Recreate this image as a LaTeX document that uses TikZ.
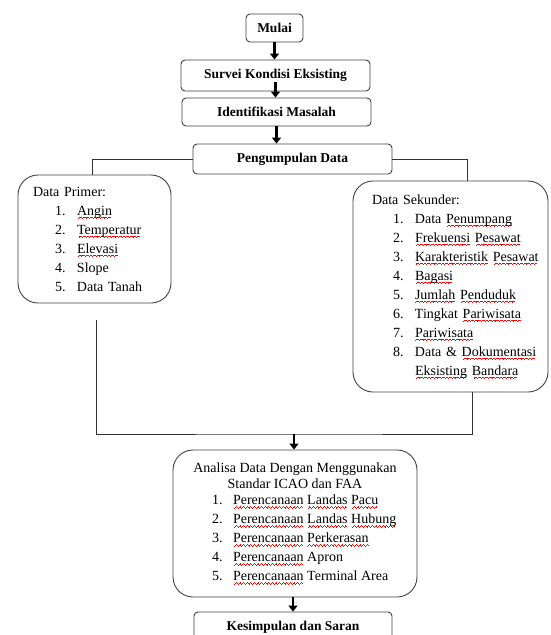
\documentclass[tikz,border=0pt]{standalone}
\usepackage{fontspec}
\setmainfont{Liberation Serif}
\usetikzlibrary{positioning, arrows.meta}

\newcommand\wave{\hbox{\rule[-3.6pt]{0.9pt}{0.6pt}\rule[-3pt]{0.9pt}{0.6pt}\rule[-2.4pt]{0.9pt}{0.6pt}\rule[-3pt]{0.9pt}{0.6pt}}}
\newcommand\typo[1]{\setbox0\hbox{#1}\rlap{\hbox to\wd0{\color{red}\cleaders\wave\hfil}}\box0\relax}
\newcommand\listitem[3]{\hspace*{#1}\makebox[22pt][l]{#2}\mbox{#3}}
\newcommand\planitem[2]{\makebox[166pt][l]{\makebox[21pt][l]{#1}#2}}

\tikzset{
  box/.style={draw=black!75, line width=0.9pt, rounded corners=4pt, inner sep=0pt,
    font=\fontsize{13.5}{16}\selectfont\bfseries},
  listbox/.style={draw=black!75, line width=0.9pt, rounded corners=20pt, inner sep=0pt,
    font=\fontsize{14}{19}\selectfont},
  link/.style={draw=black!80, line width=0.7pt},
  flow/.style={line width=2.6pt, -{Triangle[width=9pt,length=6pt]}}
}

\begin{document}
\begin{tikzpicture}[x=1pt, y=1pt, on grid]
  \useasboundingbox (0,0) rectangle (550,-635);

  \node[box, minimum width=57pt, minimum height=28pt] (mulai) at (274.5,-28) {Mulai};
  \node[box, minimum width=189pt, minimum height=31pt] (survei) [below=47.5pt of mulai, xshift=1pt] {Survei Kondisi Eksisting};
  \node[box, minimum width=189pt, minimum height=28pt] (identifikasi) [below=36.5pt of survei, xshift=1pt] {Identifikasi Masalah};
  \node[box, minimum width=199pt, minimum height=30pt] (pengumpulan) [below=47pt of identifikasi, xshift=16pt] {Pengumpulan Data};

  \node[listbox, align=left, text width=123pt, minimum width=153pt, minimum height=128pt] (primer) at (94.5,-239) {%
    Data Primer:\\
    \listitem{22pt}{1.}{\typo{Angin}}\\
    \listitem{22pt}{2.}{\typo{Temperatur}}\\
    \listitem{22pt}{3.}{\typo{Elevasi}}\\
    \listitem{22pt}{4.}{Slope}\\
    \listitem{22pt}{5.}{Data Tanah}};

  \node[listbox, align=left, text width=157pt, minimum width=195pt, minimum height=211pt] (sekunder) at (450.5,-286.5) {%
    Data Sekunder:\\
    \listitem{21pt}{1.}{Data \typo{Penumpang}}\\
    \listitem{21pt}{2.}{\typo{Frekuensi} \typo{Pesawat}}\\
    \listitem{21pt}{3.}{\typo{Karakteristik} \typo{Pesawat}}\\
    \listitem{21pt}{4.}{\typo{Bagasi}}\\
    \listitem{21pt}{5.}{\typo{Jumlah} \typo{Penduduk}}\\
    \listitem{21pt}{6.}{Tingkat \typo{Pariwisata}}\\
    \listitem{21pt}{7.}{\typo{Pariwisata}}\\
    \listitem{21pt}{8.}{Data \& \typo{Dokumentasi}}\\
    \hspace*{43pt}\mbox{\typo{Eksisting} \typo{Bandara}}};

  \node[listbox, align=center, minimum width=244pt, minimum height=147pt] (analisa) at (295,-523.5) {%
    Analisa Data Dengan Menggunakan\\[-3pt]
    Standar ICAO dan FAA\\[-3pt]
    \planitem{1.}{\typo{Perencanaan} \typo{Landas} \typo{Pacu}}\\
    \planitem{2.}{\typo{Perencanaan} \typo{Landas} \typo{Hubung}}\\
    \planitem{3.}{\typo{Perencanaan} \typo{Perkerasan}}\\
    \planitem{4.}{\typo{Perencanaan} Apron}\\
    \planitem{5.}{\typo{Perencanaan} Terminal Area}};

  \node[box, minimum width=198pt, minimum height=30pt] (kesimpulan) [below=103.5pt of analisa, xshift=-2pt] {Kesimpulan dan Saran};

  \coordinate (gabung) at (294,-434);

  \draw[flow] (mulai.south) -- (mulai.south |- survei.north);
  \draw[flow] ([yshift=9pt]survei.south) -- (survei.south |- identifikasi.north);
  \draw[flow] (identifikasi.south) -- (identifikasi.south |- pengumpulan.north);
  \draw[link] (pengumpulan.west) -| ([xshift=-2.5pt]primer.north);
  \draw[link] (pengumpulan.east) -| ([xshift=16.5pt]sekunder.north);
  \draw[link] ([xshift=1.5pt,yshift=-17pt]primer.south) |- (gabung) -| ([xshift=21.5pt]sekunder.south);
  \draw[flow] (gabung) -- (gabung |- analisa.north);
  \draw[flow] (analisa.south -| kesimpulan.north) -- (kesimpulan.north);
\end{tikzpicture}
\end{document}
